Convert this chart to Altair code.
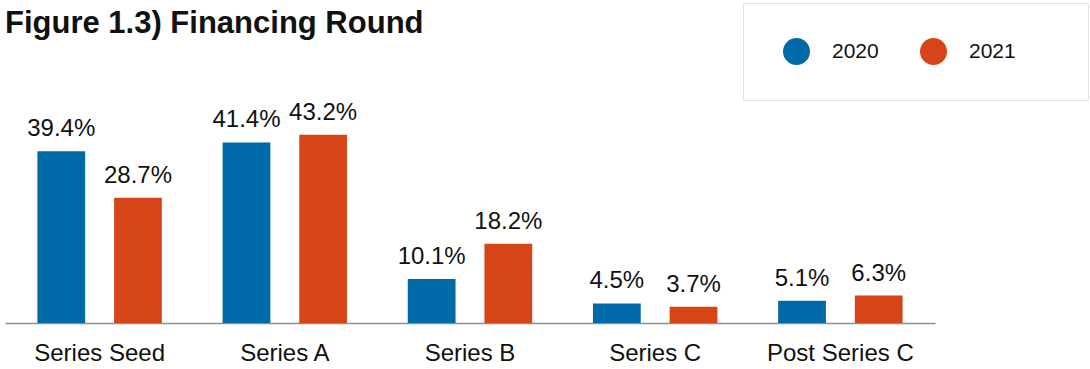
import altair as alt
import pandas as pd

rounds = ["Series Seed", "Series A", "Series B", "Series C", "Post Series C"]
years = ["2020", "2021"]
values_2020 = [39.4, 41.4, 10.1, 4.5, 5.1]
values_2021 = [28.7, 43.2, 18.2, 3.7, 6.3]
colors = ["#006AA8", "#D64518"]

rows = []
for r, a, b in zip(rounds, values_2020, values_2021):
    rows.append({"round": r, "year": "2020", "value": a, "label": f"{a:.1f}%"})
    rows.append({"round": r, "year": "2021", "value": b, "label": f"{b:.1f}%"})
df = pd.DataFrame(rows)

FONT = "Liberation Sans"

x = alt.X("round:N", sort=rounds, title=None,
          scale=alt.Scale(paddingInner=0.328, paddingOuter=0.175),
          axis=alt.Axis(labelAngle=0, ticks=False, domainColor="#8f8f8f", domainWidth=1.5,
                        labelFontSize=24, labelFont=FONT, labelColor="#111111",
                        labelPadding=18, grid=False))
xo = alt.XOffset("year:N", sort=years, scale=alt.Scale(paddingInner=0.377, paddingOuter=0))
y = alt.Y("value:Q", scale=alt.Scale(domain=[0, 50]), axis=None)

base = alt.Chart(df)

bars = base.mark_bar().encode(
    x=x, xOffset=xo, y=y,
    color=alt.Color("year:N", sort=years,
                    scale=alt.Scale(domain=years, range=colors),
                    legend=alt.Legend(
                        title=" ", titleOrient="right", titlePadding=37,
                        orient="none", legendX=738, legendY=-102,
                        direction="horizontal", symbolType="circle", symbolSize=729,
                        symbolStrokeWidth=0, symbolOffset=5,
                        labelFontSize=21, labelFont=FONT, labelColor="#111111",
                        labelOffset=22, columnPadding=36, padding=35,
                        strokeColor="#e2e2e2", fillColor="white")),
)

text = base.mark_text(baseline="alphabetic", dy=-15, fontSize=24, font=FONT,
                      color="#111111").encode(
    x=x, xOffset=xo, y=y, text="label:N")

chart = (bars + text).properties(
    width=930, height=218,
    padding={"left": 5, "top": 105, "right": 155, "bottom": 46},
    autosize=alt.AutoSizeParams(type="none"),
    title=alt.TitleParams("Figure 1.3) Financing Round", anchor="start", frame="group",
                          fontSize=31, fontWeight="bold", font=FONT, color="#111111",
                          offset=0, dy=37),
).configure_view(stroke=None)

chart.save("out.html", embed_options={"renderer": "svg", "actions": False})
